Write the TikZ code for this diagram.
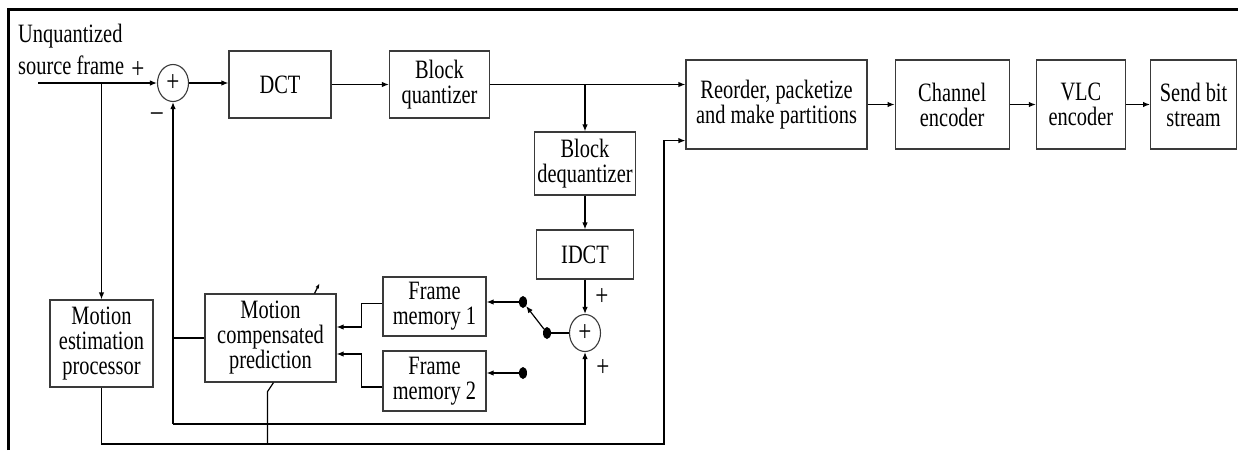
\documentclass[tikz,border=0pt]{standalone}
\usepackage{fontspec}
\setmainfont{Liberation Serif}[FakeStretch=0.77]
\usetikzlibrary{positioning, arrows.meta, shapes.geometric}
\definecolor{boxGray}{HTML}{3A3A3A}

\begin{document}
\begin{tikzpicture}[x=1pt, y=-1pt,
      box/.style={draw=boxGray, line width=1.2pt, align=center, inner sep=2pt,
                  font=\fontsize{26.5}{25}\selectfont},
      lbl/.style={align=left, inner sep=0pt, font=\fontsize{26.5}{25}\selectfont},
      sumnode/.style={draw=boxGray, ellipse, line width=1.1pt, inner sep=0pt,
                  minimum width=31pt, minimum height=37pt, font=\fontsize{30}{30}\selectfont},
      dot/.style={ellipse, fill=black, inner sep=0pt, minimum width=8pt, minimum height=12pt},
      sign/.style={inner sep=0pt, font=\fontsize{30}{30}\selectfont},
      wire/.style={line width=1.2pt},
      arr/.style={wire, -{Latex[length=7pt, width=5.5pt]}}]
    \useasboundingbox (0,0) rectangle (1238,450);
    \draw[line width=3pt] (8,450) -- (8,9) -- (1238,9);
    % forward path
    \node[lbl, anchor=north west] (src) at (18,24) {Unquantized\\[7pt]source frame};
    \coordinate (inp) at (38,83);
    \node[sumnode] (sumA) at (173,83) {+};
    \node[box, minimum width=102pt, minimum height=67pt] (dct) at (280,84.5) {DCT};
    \node[box, minimum width=100pt, minimum height=67pt] (bq) at (439.5,84.5) {Block\\quantizer};
    \node[box, minimum width=181pt, minimum height=89pt] (reord) at (776.5,104.5) {Reorder, packetize\\and make partitions};
    \node[box, minimum width=114pt, minimum height=89pt, right=27pt of reord] (chan) {Channel\\encoder};
    \node[box, minimum width=89pt, minimum height=89pt, right=26pt of chan] (vlc) {VLC\\encoder};
    \node[box, minimum width=86pt, minimum height=89pt, right=24pt of vlc] (send) {Send bit\\stream};
    % reconstruction loop
    \node[box, minimum width=101pt, minimum height=63pt] (bdq) at (585,163.5) {Block\\dequantizer};
    \node[box, minimum width=97pt, minimum height=49pt] (idct) at (585,254.5) {IDCT};
    \node[sumnode] (sumB) at (585,333) {+};
    \node[box, minimum width=103pt, minimum height=59pt] (fmA) at (434.5,306.5) {Frame\\memory 1};
    \node[box, minimum width=103pt, minimum height=60pt] (fmB) at (434.5,381) {Frame\\memory 2};
    \node[box, minimum width=131pt, minimum height=88pt] (mcp) at (270.5,338) {Motion\\compensated\\prediction};
    \node[box, minimum width=103pt, minimum height=87pt] (mep) at (101.5,343.5) {Motion\\estimation\\processor};
    \node[dot] (swC) at (547,333) {};
    \node[dot] (swA) at (523,302) {};
    \node[dot] (swB) at (523,373) {};
    \node[sign] (pA) at (138,70) {+};
    \node[sign] (mA) at (157,117) {\textendash};
    \node[sign] (pB) at (602,297) {+};
    \node[sign] (pC) at (603,368) {+};
    \coordinate (loopA) at (173,424);
    \coordinate (loopB) at (664,444);
    % connectors
    \draw[arr] (inp) -- (sumA.west); \draw[arr] (sumA.east) -- (sumA.east -| dct.west); \draw[arr] (dct) -- (bq);
    \draw[arr] (bq.east) -- (bq.east -| reord.west); \draw[arr] (bq.east -| bdq.north) -- (bdq.north);
    \draw[arr] (reord) -- (chan); \draw[arr] (chan) -- (vlc); \draw[arr] (vlc) -- (send);
    \draw[arr] (bdq) -- (idct); \draw[arr] (idct) -- (sumB);
    \draw[arr] (inp -| mep.north) -- (mep.north);
    \draw[arr] (mep.south) |- (loopB) |- ([yshift=9pt]reord.south west);
    \draw[wire] ([xshift=3pt]mcp.south) -- ++(-6,9) -- ++(0,53);
    \draw[arr] (loopA) -- (sumA.south); \draw[arr] (loopA) -| (sumB.south);
    \draw[wire] (mcp.west) -- (mcp.west -| loopA);
    \draw[wire, -{Latex[length=5pt, width=4pt]}] ([xshift=44pt]mcp.north) -- ++(5,-10);
    \draw[wire] (swC) -- (sumB.west); \draw[arr] (swC) -- (swA);
    \draw[arr] (swA) -- (swA -| fmA.east); \draw[arr] (swB) -- (swB -| fmB.east);
    \draw[arr] ([yshift=3pt]fmA.west) -- ++(-21,0) |- ([yshift=11pt]mcp.east);
    \draw[arr] ([yshift=-6pt]fmB.west) -- ++(-21,0) |- ([yshift=-16pt]mcp.east);
  \end{tikzpicture}
\end{document}
